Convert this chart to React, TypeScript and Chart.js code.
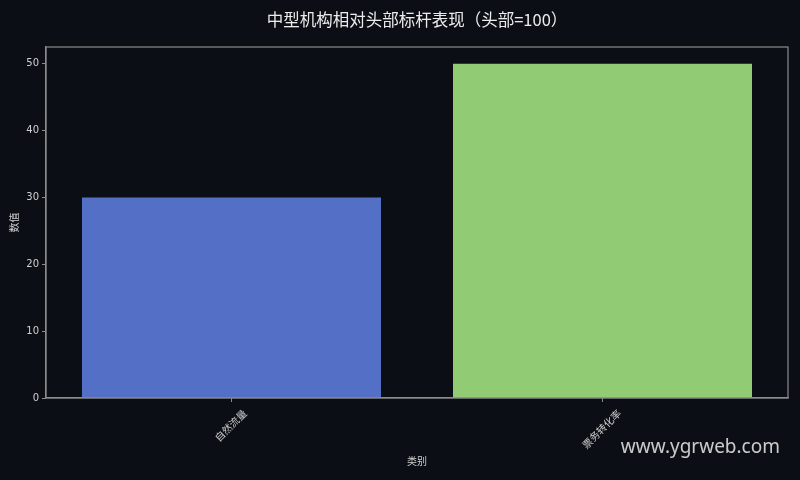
import React, { useEffect, useRef } from 'react';
import { Chart, registerables, Plugin } from 'chart.js';

Chart.register(...registerables);

const categories = ['自然流量', '票务转化率'];
const values = [30, 50];
const barColors = ['#5470c6', '#91cc75'];
const yTicks = [0, 10, 20, 30, 40, 50];
const chartTitle = '中型机构相对头部标杆表现（头部=100）';

const BG = '#0b0e14';
const AXIS = '#8c8c8c';
const TEXT = '#d0d0d0';
const FONT = '"DejaVu Sans", "Noto Sans CJK SC", sans-serif';

const framePlugin: Plugin<'bar'> = {
    id: 'frame',
    beforeDraw(chart) {
        const { ctx, width, height } = chart;
        ctx.save();
        ctx.fillStyle = BG;
        ctx.fillRect(0, 0, width, height);
        ctx.restore();
    },
    afterDraw(chart) {
        const { ctx, chartArea } = chart;
        const xs = chart.scales.x;
        ctx.save();
        // full box around the plot
        ctx.strokeStyle = AXIS;
        ctx.lineWidth = 1.2;
        ctx.strokeRect(chartArea.left, chartArea.top, chartArea.right - chartArea.left, chartArea.bottom - chartArea.top);

        // title centred over the axes
        ctx.font = `16.5px "Noto Sans CJK KR", "Noto Sans CJK SC", sans-serif`;
        ctx.fillStyle = '#ececec';
        ctx.textAlign = 'center';
        ctx.textBaseline = 'middle';
        ctx.fillText(chartTitle, (chartArea.left + chartArea.right) / 2, 20);

        // rotated category labels, centred under their ticks
        ctx.font = `10px ${FONT}`;
        ctx.fillStyle = TEXT;
        xs.ticks.forEach((_, i) => {
            const label = String(chart.data.labels?.[i] ?? '');
            const x = xs.getPixelForTick(i);
            const w = ctx.measureText(label).width;
            const diag = (w + 12) * Math.SQRT1_2;
            ctx.save();
            ctx.translate(x, xs.top + 10 + diag / 2);
            ctx.rotate(-Math.PI / 4);
            ctx.fillText(label, 0, 0);
            ctx.restore();
        });

        // watermark
        ctx.font = `19px "Noto Sans", "Open Sans", sans-serif`;
        ctx.fillStyle = 'rgba(235,235,235,0.85)';
        ctx.textAlign = 'right';
        ctx.textBaseline = 'alphabetic';
        ctx.fillText('www.ygrweb.com', 780, 453);
        ctx.restore();
    },
};

const App: React.FC = () => {
    const canvasRef = useRef<HTMLCanvasElement>(null);

    useEffect(() => {
        if (!canvasRef.current) return;
        const chart = new Chart(canvasRef.current, {
            type: 'bar',
            data: {
                labels: categories,
                datasets: [{
                    label: '数值',
                    data: values,
                    backgroundColor: barColors,
                    borderWidth: 0,
                    barPercentage: 0.806,
                    categoryPercentage: 1,
                }],
            },
            options: {
                animation: false,
                responsive: true,
                maintainAspectRatio: false,
                layout: { padding: { left: 0, right: 12, top: 47, bottom: 0 } },
                plugins: {
                    legend: { display: false },
                    tooltip: { enabled: false },
                    title: { display: false },
                },
                scales: {
                    x: {
                        grid: { display: true, offset: false, drawOnChartArea: false, drawTicks: true, tickLength: 4, color: AXIS },
                        border: { display: true, color: AXIS, width: 1.2 },
                        ticks: { display: false },
                        title: {
                            display: true,
                            text: '类别',
                            color: TEXT,
                            font: { family: FONT, size: 10 },
                            padding: { top: 4, bottom: 12 },
                        },
                        afterFit(scale) { scale.height = 82; },
                    },
                    y: {
                        min: 0,
                        max: 52.5,
                        grid: { display: true, drawOnChartArea: false, drawTicks: true, tickLength: 4, color: AXIS },
                        border: { display: true, color: AXIS, width: 1.2 },
                        ticks: { color: TEXT, font: { family: FONT, size: 10 }, padding: 3 },
                        afterBuildTicks(scale) { scale.ticks = yTicks.map(v => ({ value: v })); },
                        title: {
                            display: true,
                            text: '数值',
                            color: TEXT,
                            font: { family: FONT, size: 10 },
                            padding: { top: 9, bottom: 4 },
                        },
                        afterFit(scale) { scale.width = 46; },
                    },
                },
            },
            plugins: [framePlugin],
        });
        return () => chart.destroy();
    }, []);

    return (
        <div style={{ position: 'fixed', left: 0, top: 0, width: 800, height: 480, background: BG }}>
            <canvas ref={canvasRef} />
        </div>
    );
};

export default App;
